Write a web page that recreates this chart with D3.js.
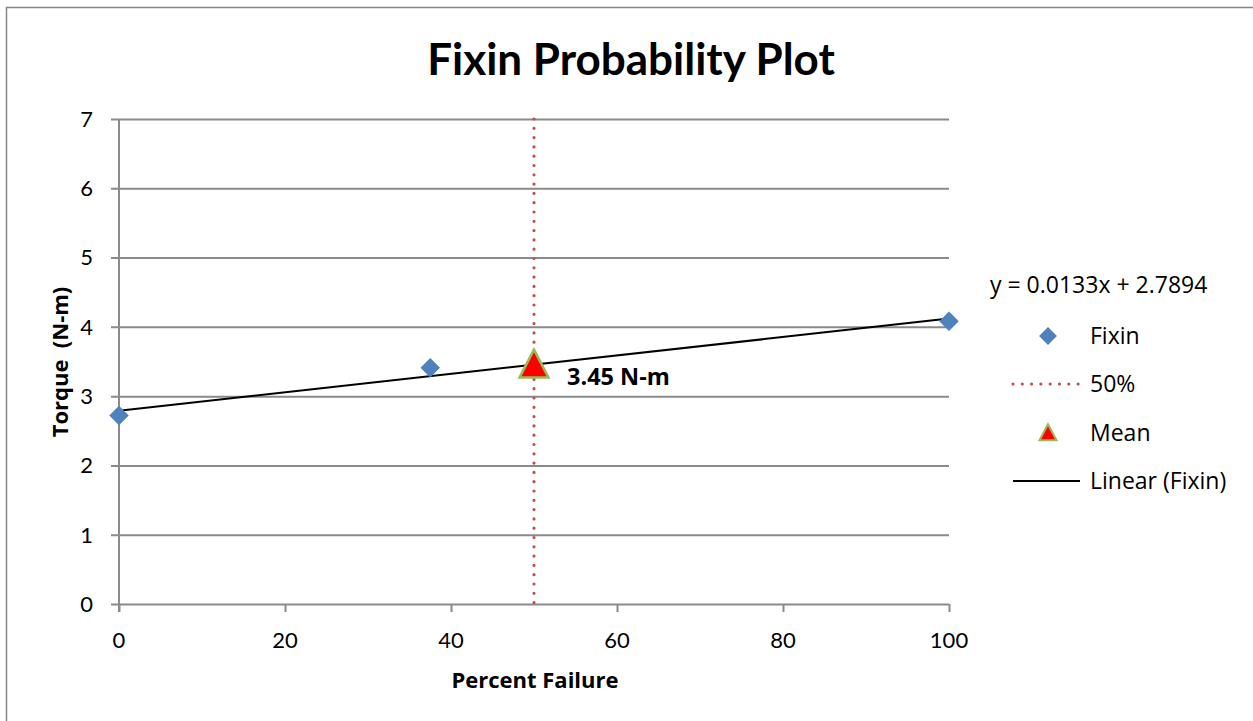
<!DOCTYPE html>
<html>
<head>
<meta charset="utf-8">
<script src="https://cdn.jsdelivr.net/npm/d3@7"></script>
<style>
  html, body { margin: 0; padding: 0; background: #fff; }
  svg { display: block; }
  text { font-family: "Open Sans", Lato, sans-serif; fill: #000; }
  .tick-label, .title { font-family: Lato, "Open Sans", sans-serif; }
</style>
</head>
<body>
<svg id="chart" width="1253" height="721"></svg>
<script>
// Observed failure data
const pctFailure = [0, 37.5, 100];
const torque = [2.72, 3.41, 4.08];

// Mean point and 50% reference
const meanPct = [50];
const meanTorque = [3.45];
const refPct = 50;

// Linear fit coefficients
const fitSlope = 0.0133;
const fitIntercept = 2.7894;

// Axis ticks
const xTicks = [0, 20, 40, 60, 80, 100];
const yTicks = [0, 1, 2, 3, 4, 5, 6, 7];

const svg = d3.select("#chart");
const W = 1253, H = 721;
const gridColor = "#8a8a8a";
const blue = "#4f81bd", red = "#c0504d", green = "#9bbb59";

// Outer chart frame
svg.append("rect").attr("x", 6.5).attr("y", 7.5).attr("width", W + 10).attr("height", H + 10)
  .attr("fill", "#fff").attr("stroke", "#868686").attr("stroke-width", 1.5);

const x = d3.scaleLinear().domain([0, 100]).range([119, 949]);
const y = d3.scaleLinear().domain([0, 7]).range([604, 119]);

// Horizontal gridlines with tick marks via left axis
const yAxis = d3.axisLeft(y).tickValues(yTicks).tickSize(-(949 - 119)).tickFormat("");
const gy = svg.append("g").attr("transform", "translate(119,0)").call(yAxis);
gy.select(".domain").remove();
gy.selectAll(".tick line").attr("stroke", gridColor).attr("stroke-width", 2).attr("x1", -8);

// Y tick labels
svg.append("g").selectAll("text").data(yTicks).join("text")
  .attr("class", "tick-label")
  .attr("x", 93).attr("y", d => y(d)).attr("dy", "0.36em")
  .attr("text-anchor", "end").attr("font-size", 22).text(d => d);

// Vertical axis line
svg.append("line").attr("x1", x(0)).attr("x2", x(0)).attr("y1", y(7)).attr("y2", y(0) + 8)
  .attr("stroke", gridColor).attr("stroke-width", 2);

// X axis ticks
const xAxis = d3.axisBottom(x).tickValues(xTicks).tickSize(8).tickFormat("");
const gx = svg.append("g").attr("transform", `translate(0,${y(0)})`).call(xAxis);
gx.select(".domain").remove();
gx.selectAll(".tick line").attr("stroke", gridColor).attr("stroke-width", 2);

svg.append("g").selectAll("text").data(xTicks).join("text")
  .attr("class", "tick-label")
  .attr("x", d => x(d)).attr("y", 648).attr("text-anchor", "middle")
  .attr("font-size", 22).text(d => d);

// 50% reference line
svg.append("line").attr("x1", x(refPct)).attr("x2", x(refPct)).attr("y1", y(7)).attr("y2", y(0))
  .attr("stroke", red).attr("stroke-width", 3.2).attr("stroke-linecap", "round")
  .attr("stroke-dasharray", "0 9.3");

// Linear trendline
const fitLine = d3.line().x(d => x(d)).y(d => y(fitSlope * d + fitIntercept));
svg.append("path").datum([0, 100]).attr("d", fitLine)
  .attr("fill", "none").attr("stroke", "#000").attr("stroke-width", 2);

// Data points (diamonds)
const diamond = d3.symbol().type(d3.symbolSquare).size(190);
svg.append("g").selectAll("path").data(pctFailure.map((p, i) => [p, torque[i]])).join("path")
  .attr("d", diamond)
  .attr("transform", d => `translate(${x(d[0])},${y(d[1])}) rotate(45)`)
  .attr("fill", blue);

// Mean marker (triangle)
const tri = (cx, cy, w, h) => `M${cx},${cy - h * 0.55}L${cx + w / 2},${cy + h * 0.45}L${cx - w / 2},${cy + h * 0.45}Z`;
svg.append("g").selectAll("path").data(meanPct.map((p, i) => [p, meanTorque[i]])).join("path")
  .attr("d", d => tri(x(d[0]), y(d[1]), 29, 28))
  .attr("fill", "#ff0000").attr("stroke", green).attr("stroke-width", 2.5)
  .attr("stroke-linejoin", "miter");

// Mean value label
svg.append("text").attr("x", 567).attr("y", 385).attr("font-size", 23.5).attr("font-weight", "bold")
  .text(`${meanTorque[0].toFixed(2)} N-m`);

// Title
svg.append("text").attr("class", "title").attr("x", 631).attr("y", 75).attr("text-anchor", "middle")
  .attr("font-size", 44).attr("font-weight", "bold").text("Fixin Probability Plot");

// Axis titles
svg.append("text").attr("x", 535).attr("y", 688).attr("text-anchor", "middle")
  .attr("font-size", 22).attr("font-weight", "bold").text("Percent Failure");
svg.append("text").attr("transform", "translate(68,362) rotate(-90)").attr("text-anchor", "middle")
  .attr("font-size", 22).attr("font-weight", "bold").attr("xml:space", "preserve").text("Torque  (N-m)");

// Legend
const lg = svg.append("g");
const lgSize = 23;
lg.append("text").attr("x", 990).attr("y", 293).attr("font-size", lgSize)
  .text(`y = ${fitSlope}x + ${fitIntercept}`);
lg.append("path").attr("d", d3.symbol().type(d3.symbolSquare).size(160))
  .attr("transform", "translate(1048,336) rotate(45)").attr("fill", blue);
lg.append("text").attr("x", 1090).attr("y", 344).attr("font-size", lgSize).text("Fixin");
lg.append("line").attr("x1", 1013).attr("x2", 1081).attr("y1", 384).attr("y2", 384)
  .attr("stroke", red).attr("stroke-width", 3.2).attr("stroke-linecap", "round")
  .attr("stroke-dasharray", "0 9.3");
lg.append("text").attr("x", 1090).attr("y", 392).attr("font-size", lgSize).text("50%");
lg.append("path").attr("d", tri(1048, 433, 17, 16))
  .attr("fill", "#ff0000").attr("stroke", green).attr("stroke-width", 2);
lg.append("text").attr("x", 1090).attr("y", 441).attr("font-size", lgSize).text("Mean");
lg.append("line").attr("x1", 1013).attr("x2", 1080).attr("y1", 481).attr("y2", 481)
  .attr("stroke", "#000").attr("stroke-width", 2);
lg.append("text").attr("x", 1090).attr("y", 489).attr("font-size", lgSize).text("Linear (Fixin)");
</script>
</body>
</html>
